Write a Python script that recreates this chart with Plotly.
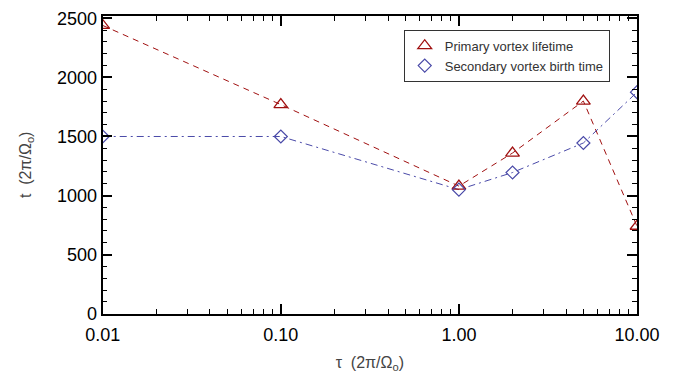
import plotly.graph_objects as go

# Forcing timescale tau (in units of 2pi/Omega_o)
tau = [0.01, 0.1, 1.0, 2.0, 5.0, 10.0]
# Primary vortex lifetime and secondary vortex birth time (2pi/Omega_o)
primary_lifetime = [2440, 1770, 1080, 1360, 1800, 740]
secondary_birth = [1500, 1500, 1050, 1195, 1445, 1875]

x_tickvals = [0.01, 0.1, 1.0, 10.0]
x_ticktext = ["0.01", "0.10", "1.00", "10.00"]
y_tickvals = [0, 500, 1000, 1500, 2000, 2500]

# minor ticks at 2..9 within each decade
x_minor = [m * d for d in (0.01, 0.1, 1.0) for m in range(2, 10)]

X_RANGE = [-2, 1]
Y_RANGE = [0, 2520]

RED = "#a01010"
BLUE = "#4a4aa8"
FONT = "Liberation Sans, Arial, Helvetica, sans-serif"

fig = go.Figure()

# connecting lines (kept out of the legend)
fig.add_trace(go.Scatter(x=tau, y=primary_lifetime, mode="lines",
                         line=dict(color=RED, width=1, dash="6px,5px"),
                         showlegend=False, hoverinfo="skip"))
fig.add_trace(go.Scatter(x=tau, y=secondary_birth, mode="lines",
                         line=dict(color=BLUE, width=1, dash="7px,4px,2px,4px"),
                         showlegend=False, hoverinfo="skip"))

# symbols
fig.add_trace(go.Scatter(x=tau, y=primary_lifetime, mode="markers",
                         name="Primary vortex lifetime",
                         marker=dict(symbol="triangle-up-open", size=12,
                                     color=RED, line=dict(width=1.3, color=RED))))
fig.add_trace(go.Scatter(x=tau, y=secondary_birth, mode="markers",
                         name="Secondary vortex birth time",
                         marker=dict(symbol="diamond-open", size=10,
                                     color=BLUE, line=dict(width=1.2, color=BLUE))))

# an empty trace that carries the detached label axes
fig.add_trace(go.Scatter(x=[], y=[], xaxis="x2", yaxis="y2",
                         showlegend=False, hoverinfo="skip"))

# frame axes: box with inward ticks on all four sides
frame = dict(
    ticks="inside", ticklen=10, tickwidth=1.5, tickcolor="black",
    mirror="allticks", showline=True, linecolor="black", linewidth=1.5,
    showgrid=False, zeroline=False, showticklabels=False,
)
# label axes: text only, set slightly away from the frame
labels = dict(
    ticks="", showline=False, showgrid=False, zeroline=False,
    tickfont=dict(family=FONT, size=18, color="black"),
)
title_font = dict(family=FONT, size=16, color="#444444")

fig.update_layout(
    xaxis=dict(type="log", range=X_RANGE, domain=[0.0106, 1],
               tickvals=x_tickvals,
               minor=dict(tickvals=x_minor, ticks="inside", ticklen=5,
                          tickwidth=1.2, tickcolor="black", showgrid=False),
               **frame),
    yaxis=dict(range=Y_RANGE, domain=[0.0272, 1], tickvals=y_tickvals,
               minor=dict(dtick=100, ticks="inside", ticklen=5, tickwidth=1.2,
                          tickcolor="black", showgrid=False),
               **frame),
    xaxis2=dict(type="log", range=X_RANGE, overlaying="x", anchor="free",
                position=0, side="bottom",
                tickvals=x_tickvals, ticktext=x_ticktext,
                title=dict(text="τ  (2π/Ω<sub>o</sub>)", standoff=12,
                           font=title_font),
                **labels),
    yaxis2=dict(range=Y_RANGE, overlaying="y", anchor="free", position=0,
                side="left", tickvals=y_tickvals,
                title=dict(text="t  (2π/Ω<sub>o</sub>)", standoff=20,
                           font=title_font),
                **labels),
)

fig.update_layout(
    width=687, height=383,
    margin=dict(l=97, r=50, t=9, b=61),
    paper_bgcolor="white", plot_bgcolor="white",
    font=dict(family=FONT, color="#333333"),
    legend=dict(x=0.568, y=0.955, xanchor="left", yanchor="top",
                bgcolor="white", bordercolor="#333333", borderwidth=1,
                font=dict(family=FONT, size=13, color="#333333"),
                itemwidth=30, tracegroupgap=0),
    showlegend=True,
)

fig.write_html("out.html")
